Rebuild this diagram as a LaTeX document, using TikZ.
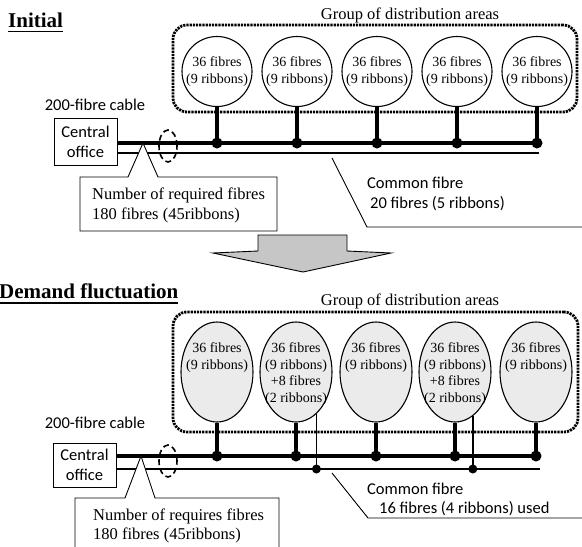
\documentclass[tikz,border=0pt]{standalone}
\usepackage{fontspec}
\setmainfont{Liberation Serif}
\newfontfamily\labelfont{Carlito}
\usetikzlibrary{shapes.geometric}

\begin{document}
\begin{tikzpicture}[x=1pt,y=-1pt,>=latex,
  cable/.style={line width=4.5pt},
  fibre/.style={line width=2pt},
  drop/.style={line width=1.4pt},
  leader/.style={line width=0.9pt},
  areabox/.style={draw,rounded corners=14pt,line width=2.8pt,dash pattern=on 2.2pt off 1pt,inner sep=0pt},
  area/.style={draw,circle,line width=1.1pt,minimum size=70pt,inner sep=0pt,align=center,font=\fontsize{14}{17}\selectfont},
  demand/.style={draw,ellipse,line width=1.1pt,fill=gray!16,minimum width=72pt,minimum height=100pt,inner sep=0pt},
  fibres/.style={align=center,inner sep=0pt,font=\fontsize{14}{16.7}\selectfont},
  office/.style={draw,line width=0.9pt,minimum width=63pt,align=center,inner sep=0pt,font=\labelfont\fontsize{16.5}{20}\selectfont},
  tag/.style={inner sep=0pt,font=\labelfont\fontsize{16.5}{19.5}\selectfont},
  title/.style={inner sep=0pt,anchor=base west,font=\bfseries\fontsize{21}{24}\selectfont},
  heading/.style={inner sep=0pt,anchor=base,font=\fontsize{16.5}{20}\selectfont},
  boxtext/.style={inner sep=0pt,anchor=west,align=left,font=\fontsize{16.5}{19.5}\selectfont},
  callout/.style={draw,fill=white,line width=0.9pt},
  cut/.style={draw,ellipse,line width=1.6pt,dash pattern=on 6pt off 3.5pt,minimum width=18pt,minimum height=32pt,inner sep=0pt}]
  \useasboundingbox (0,0) rectangle (582,547);

  \node[title] (initial) at (8,27) {Initial};
  \draw[line width=1.8pt] ([yshift=-4.5pt]initial.base west) -- ([yshift=-4.5pt]initial.base east);
  \node[heading] (groupA) at (410,19.5) {Group of distribution areas};
  \node[areabox,minimum width=404pt,minimum height=87pt] (areasA) at (375,68.5) {};
  \node[area] (a1) at (217,71.5) {36 fibres\\(9 ribbons)};
  \node[area] (a2) at (297,71.5) {36 fibres\\(9 ribbons)};
  \node[area] (a3) at (377,71.5) {36 fibres\\(9 ribbons)};
  \node[area] (a4) at (457,71.5) {36 fibres\\(9 ribbons)};
  \node[area] (a5) at (537,71.5) {36 fibres\\(9 ribbons)};
  \coordinate (ja1) at (217,143);
  \coordinate (ja2) at (297,143);
  \coordinate (ja3) at (377,143);
  \coordinate (ja4) at (457,143);
  \coordinate (ja5) at (537,143);
  \coordinate (ta) at (539,153);
  \node[office,minimum height=47pt] (officeA) at (85.5,141.5) {Central\\office};
  \node[tag] (cableA) at (95,105) {200-fibre cable};
  \draw[cable] (officeA.east |- ja1) -- (ja5);
  \draw[fibre] (officeA.east |- ta) -- (ta);
  \draw[cable] (a1) -- (ja1);
  \draw[cable] (a2) -- (ja2);
  \draw[cable] (a3) -- (ja3);
  \draw[cable] (a4) -- (ja4);
  \draw[cable] (a5) -- (ja5);
  \fill (ja1) circle (5.5pt);
  \fill (ja2) circle (5.5pt);
  \fill (ja3) circle (5.5pt);
  \fill (ja4) circle (5.5pt);
  \fill (ja5) circle (5.5pt);
  \node[cut] (cutA) at (168,146) {};
  \draw[callout] (80,177) -- (128,177) -- (143,143) -- (158,177) -- (277,177) -- (277,231) -- (80,231) -- cycle;
  \node[boxtext] (reqA) at (92,205.5) {Number of required fibres\\180 fibres (45ribbons)};
  \coordinate (pa) at (332,158);
  \coordinate (ka) at (367,227);
  \coordinate (ea) at (585,227);
  \draw[leader] (pa) -- (ka) -- (ea);
  \node[tag,anchor=west,align=left] (commonA) at (367,194) {Common fibre\\\hspace*{3pt}20 fibres (5 ribbons)};

  \filldraw[fill=gray!45,line width=0.9pt] (258,235) -- (347,235) -- (347,251) -- (391,253) -- (303,272) -- (213,253) -- (258,251) -- cycle;

  \node[title] (demand) at (-1,298) {Demand fluctuation};
  \draw[line width=1.8pt] ([yshift=-5pt]demand.base west) -- ([yshift=-5pt]demand.base east);
  \node[heading] (groupB) at (410,305) {Group of distribution areas};
  \node[areabox,minimum width=405pt,minimum height=120pt] (areasB) at (375.5,372) {};
  \node[demand] (d1) at (217,372) {};
  \node[demand] (d2) at (296,372) {};
  \node[demand] (d3) at (376,372) {};
  \node[demand] (d4) at (455,372) {};
  \node[demand] (d5) at (536,372) {};
  \node[fibres] (d1t) at (217,357.5) {36 fibres\\(9 ribbons)};
  \node[fibres] (d2t) at (296,374) {36 fibres\\(9 ribbons)\\+8 fibres\\(2 ribbons)};
  \node[fibres] (d3t) at (376,357.5) {36 fibres\\(9 ribbons)};
  \node[fibres] (d4t) at (455,374) {36 fibres\\(9 ribbons)\\+8 fibres\\(2 ribbons)};
  \node[fibres] (d5t) at (536,357.5) {36 fibres\\(9 ribbons)};
  \coordinate (jb1) at (217,456);
  \coordinate (jb2) at (296,456);
  \coordinate (jb3) at (376,456);
  \coordinate (jb4) at (455,456);
  \coordinate (jb5) at (536,456);
  \coordinate (tb) at (540,469);
  \coordinate (sb2) at (d2.-64 |- tb);
  \coordinate (sb4) at (d4.-68 |- tb);
  \node[office,minimum height=44pt] (officeB) at (84.5,465) {Central\\office};
  \node[tag] (cableB) at (95,423) {200-fibre cable};
  \draw[cable] (officeB.east |- jb1) -- (jb5);
  \draw[fibre] (officeB.east |- tb) -- (tb);
  \draw[cable] (d1) -- (jb1);
  \draw[cable] (d2) -- (jb2);
  \draw[cable] (d3) -- (jb3);
  \draw[cable] (d4) -- (jb4);
  \draw[cable] (d5) -- (jb5);
  \draw[drop] (d2.-64) -- (sb2);
  \draw[drop] (d4.-68) -- (sb4);
  \fill (jb1) circle (5.5pt);
  \fill (jb2) circle (5.5pt);
  \fill (jb3) circle (5.5pt);
  \fill (jb4) circle (5.5pt);
  \fill (jb5) circle (5.5pt);
  \fill (sb2) circle (4.5pt);
  \fill (sb4) circle (4.5pt);
  \node[cut] (cutB) at (168,461) {};
  \draw[callout] (75,560) -- (75,498) -- (125,498) -- (141,456) -- (155,498) -- (279,498) -- (279,560) -- cycle;
  \node[boxtext] (reqB) at (93,526) {Number of requires fibres\\180 fibres (45ribbons)};
  \coordinate (pb) at (332,473);
  \coordinate (kb) at (368,518);
  \coordinate (eb) at (585,518);
  \draw[leader] (pb) -- (kb) -- (eb);
  \node[tag,anchor=west,align=left] (commonB) at (367,499.5) {Common fibre\\\hspace*{12pt}16 fibres (4 ribbons) used};
\end{tikzpicture}
\end{document}
